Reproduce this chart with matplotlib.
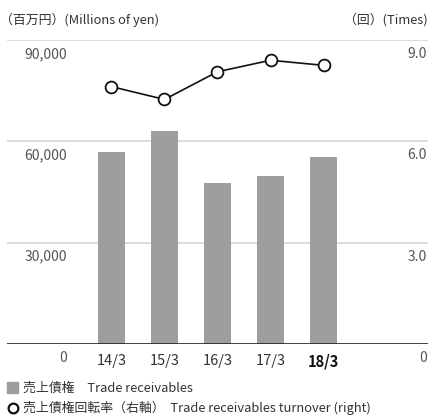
import matplotlib.pyplot as plt
from matplotlib.patches import Rectangle
from matplotlib.lines import Line2D

plt.rcParams['font.family'] = ['Noto Sans CJK JP', 'DejaVu Sans']

years = ['14/3', '15/3', '16/3', '17/3', '18/3']
receivables = [56800, 63100, 47800, 49700, 55400]
turnover = [7.62, 7.24, 8.06, 8.40, 8.25]
left_ticks = [0, 30000, 60000, 90000]
left_labels = ['0', '30,000', '60,000', '90,000']
right_ticks = [0, 3.0, 6.0, 9.0]
right_labels = ['0', '3.0', '6.0', '9.0']

bar_color = '#9d9e9d'
text_color = '#555555'

fig = plt.figure(figsize=(4.28, 4.16), dpi=100)
ax = fig.add_axes([7/428, 72/416, 421/428, 304/416])
ax2 = ax.twinx()

x = list(range(len(years)))
ax.bar(x, receivables, width=0.51, color=bar_color, zorder=2)
ax.set_xlim(-1.97, 5.97)
ax.set_ylim(0, 90000)
ax2.set_ylim(0, 9)

for v in left_ticks[1:]:
    ax.axhline(v, color='#dcdcdc', lw=1.4, zorder=1)
ax.axhline(0, color='#222222', lw=1.2, zorder=3)

for s in ['top', 'right', 'left', 'bottom']:
    ax.spines[s].set_visible(False)
    ax2.spines[s].set_visible(False)
ax.set_yticks([])
ax2.set_yticks([])

ax2.plot(x, turnover, color='#111111', lw=1.2, marker='o', markersize=8.5,
         markerfacecolor='white', markeredgecolor='#111111', markeredgewidth=1.3, zorder=4)

# y labels sit just under each line
for v, lab in zip(left_ticks, left_labels):
    ax.annotate(lab, (-0.84, v), xytext=(0, -5), textcoords='offset points',
                ha='right', va='top', fontsize=10, color=text_color)
for v, lab in zip(right_ticks, right_labels):
    ax2.annotate(lab, (1.0, v), xycoords=('axes fraction', 'data'), xytext=(-1, -5),
                 textcoords='offset points', ha='right', va='top', fontsize=10, color=text_color)

ax.set_xticks(x)
ax.set_xticklabels(years, fontsize=10.5, color='#333333')
ax.tick_params(axis='x', length=0, pad=7)
lbls = ax.get_xticklabels()
lbls[-1].set_fontweight('bold')
lbls[-1].set_color('#111111')

fig.text(0.0, 1 - 20/416, '（百万円）(Millions of yen)', fontsize=9.3, color='#333333', va='center', ha='left')
fig.text(1.0, 1 - 20/416, '（回）(Times)', fontsize=9.3, color='#333333', va='center', ha='right')

# legend
fig.add_artist(Rectangle((7/428, 1 - 393/416), 11/428, 11/416, color=bar_color, transform=fig.transFigure))
fig.text(23/428, 1 - 388/416, '売上債権　Trade receivables', fontsize=9.3, color='#333333', va='center')
fig.add_artist(Line2D([12.5/428], [1 - 408/416], marker='o', markersize=7, markerfacecolor='white',
                      markeredgecolor='#111111', markeredgewidth=1.6, transform=fig.transFigure))
fig.text(23/428, 1 - 408/416, '売上債権回転率（右軸）  Trade receivables turnover (right)', fontsize=9.3,
         color='#333333', va='center')

fig.savefig('out.png', dpi=100)
